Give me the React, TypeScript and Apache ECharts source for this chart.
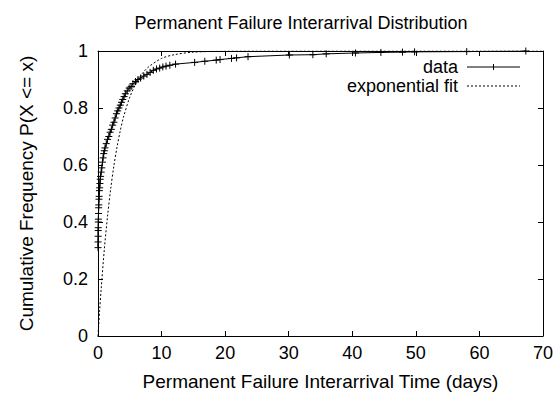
import React, { useEffect, useRef } from "react";
import * as echarts from "echarts";

const titleText = "Permanent Failure Interarrival Distribution";
const xAxisName = "Permanent Failure Interarrival Time (days)";
const yAxisName = "Cumulative Frequency P(X <= x)";
const seriesNames = ["data", "exponential fit"];

const xTicks = [0, 10, 20, 30, 40, 50, 60, 70];
const yTicks = [0, 0.2, 0.4, 0.6, 0.8, 1];

const dataX = [
  0, 0.01, 0.02, 0.03, 0.04, 0.05, 0.06, 0.08, 0.1, 0.12, 0.15, 0.18, 0.22, 0.26, 0.3,
  0.35, 0.4, 0.5, 0.6, 0.7, 0.8, 0.9, 1.0, 1.1, 1.3, 1.5, 1.7, 1.9, 2.1, 2.3, 2.5, 2.7,
  2.9, 3.1, 3.3, 3.5, 3.7, 3.9, 4.1, 4.3, 4.6, 4.9, 5.2, 5.5, 5.9, 6.3, 6.7, 7.2, 7.7,
  8.2, 8.7, 9.2, 9.7, 10.2, 10.7, 11.3, 12.2, 15.2, 16.8, 18.6, 19.2, 21.0, 21.8, 23.6,
  30.1, 33.8, 35.9, 40.5, 44.5, 47.9, 49.8, 58.0, 67.3,
];
const dataY = [
  0.31, 0.33, 0.35, 0.37, 0.38, 0.4, 0.41, 0.43, 0.45, 0.46, 0.48, 0.49, 0.51, 0.52, 0.535,
  0.55, 0.56, 0.575, 0.59, 0.61, 0.625, 0.64, 0.65, 0.66, 0.675, 0.69, 0.7, 0.715, 0.725,
  0.74, 0.75, 0.765, 0.78, 0.79, 0.8, 0.81, 0.82, 0.83, 0.84, 0.85, 0.86, 0.87, 0.875,
  0.885, 0.893, 0.9, 0.905, 0.912, 0.918, 0.925, 0.932, 0.937, 0.94, 0.944, 0.947, 0.95,
  0.954, 0.96, 0.964, 0.968, 0.97, 0.974, 0.976, 0.98, 0.986, 0.987, 0.99, 0.993, 0.995,
  0.996, 0.997, 0.998, 1.0,
];

// exponential fit curve
const fitX = [0, 0.25, 0.5, 1, 1.5, 2, 2.5, 3, 3.5, 4, 5, 6, 7, 8, 10, 12, 15, 20, 25, 30, 40, 50, 60, 70];
const fitY = [
  0, 0.087, 0.166, 0.305, 0.42, 0.517, 0.597, 0.664, 0.72, 0.767, 0.838, 0.887, 0.922,
  0.945, 0.974, 0.987, 0.996, 0.9993, 0.9999, 1, 1, 1, 1, 1,
];

const FONT = "'Liberation Sans', Arial, Helvetica, sans-serif";

export default function App() {
  const ref = useRef<HTMLDivElement>(null);
  useEffect(() => {
    if (!ref.current) return;
    const chart = echarts.init(ref.current, null, { renderer: "svg" });
    const plus = "path://M0,-1L0,1M-1,0L1,0";
    const axisCommon = {
      type: "value" as const,
      axisLine: { show: true, onZero: false, lineStyle: { color: "#000", width: 1 } },
      axisTick: { show: true, inside: true, length: 5, lineStyle: { color: "#000" } },
      splitLine: { show: false },
    };
    const fmtY = (v: number) => {
      const s = yTicks.find((t) => Math.abs(t - v) < 1e-9);
      return s === undefined ? "" : String(s);
    };
    chart.setOption({
      animation: false,
      backgroundColor: "#fff",
      textStyle: { fontFamily: FONT },
      grid: { left: 98, right: 12, top: 51, bottom: 56, containLabel: false },
      xAxis: [
        {
          ...axisCommon,
          position: "bottom",
          min: xTicks[0],
          max: xTicks[xTicks.length - 1],
          interval: 10,
          name: xAxisName,
          nameLocation: "middle",
          nameGap: 36,
          nameTextStyle: { fontSize: 19, color: "#000", fontFamily: FONT },
          axisLabel: { fontSize: 18, color: "#000", margin: 8, fontFamily: FONT },
        },
        {
          ...axisCommon,
          position: "top",
          min: xTicks[0],
          max: xTicks[xTicks.length - 1],
          interval: 10,
          axisLabel: { show: false },
        },
      ],
      yAxis: [
        {
          ...axisCommon,
          position: "left",
          min: 0,
          max: 1,
          interval: 0.2,
          name: yAxisName,
          nameLocation: "middle",
          nameGap: 62,
          nameRotate: 90,
          nameTextStyle: { fontSize: 19, color: "#000", fontFamily: FONT },
          axisLabel: { fontSize: 18, color: "#000", margin: 10, fontFamily: FONT, formatter: fmtY },
        },
        {
          ...axisCommon,
          position: "right",
          min: 0,
          max: 1,
          interval: 0.2,
          axisLabel: { show: false },
        },
      ],
      graphic: [
        {
          type: "text",
          x: 301,
          y: 23,
          style: {
            text: titleText,
            fontSize: 18,
            fontFamily: FONT,
            fill: "#000",
            textAlign: "center",
            textVerticalAlign: "middle",
          },
        },
        {
          type: "text",
          x: 458,
          y: 67,
          style: {
            text: seriesNames[0],
            fontSize: 18,
            fontFamily: FONT,
            fill: "#000",
            textAlign: "right",
            textVerticalAlign: "middle",
          },
        },
        {
          type: "line",
          shape: { x1: 467, y1: 67, x2: 520, y2: 67 },
          style: { stroke: "#000", lineWidth: 1 },
        },
        {
          type: "line",
          shape: { x1: 493.5, y1: 64, x2: 493.5, y2: 70 },
          style: { stroke: "#000", lineWidth: 1 },
        },
        {
          type: "text",
          x: 458,
          y: 86,
          style: {
            text: seriesNames[1],
            fontSize: 18,
            fontFamily: FONT,
            fill: "#000",
            textAlign: "right",
            textVerticalAlign: "middle",
          },
        },
        {
          type: "line",
          shape: { x1: 467, y1: 86, x2: 520, y2: 86 },
          style: { stroke: "#000", lineWidth: 1, lineDash: [2, 2] },
        },
      ],
      series: [
        {
          name: seriesNames[0],
          type: "line",
          xAxisIndex: 0,
          yAxisIndex: 0,
          data: dataX.map((x, i) => [x, dataY[i]]),
          symbol: plus,
          symbolSize: 7,
          showSymbol: true,
          showAllSymbol: true,
          lineStyle: { color: "#000", width: 1 },
          itemStyle: { color: "transparent", borderColor: "#000", borderWidth: 1 },
          z: 3,
        },
        {
          name: seriesNames[1],
          type: "line",
          xAxisIndex: 0,
          yAxisIndex: 0,
          data: fitX.map((x, i) => [x, fitY[i]]),
          smooth: 0.3,
          symbol: "none",
          lineStyle: { color: "#000", width: 1, type: [2, 2] },
          z: 2,
        },
      ],
    });
    return () => chart.dispose();
  }, []);
  return <div ref={ref} style={{ width: 556, height: 396, position: "absolute", left: 0, top: 0 }} />;
}
